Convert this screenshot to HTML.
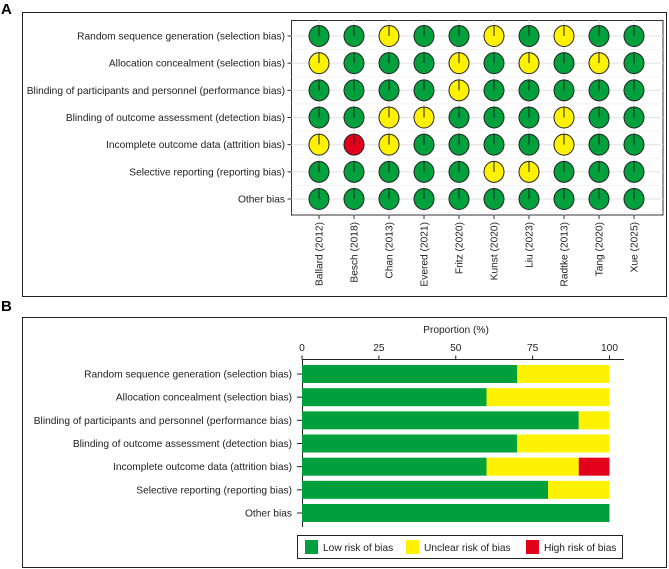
<!DOCTYPE html>
<html><head><meta charset="utf-8"><style>
body{margin:0;background:#fff;}
svg{display:block;font-family:"Liberation Sans",Arial,sans-serif;}
</style></head><body>
<svg id="chart" width="669" height="569" viewBox="0 0 669 569">
<text x="1" y="14" font-size="15" font-weight="bold">A</text>
<rect x="22.5" y="12.5" width="644" height="284" fill="none" stroke="#222" stroke-width="1"/>
<text x="1" y="311" font-size="15" font-weight="bold">B</text>
<rect x="22.5" y="317.5" width="644" height="250" fill="none" stroke="#222" stroke-width="1"/>
<g id="gA"></g>
<g id="gB"></g>
</svg>
<script>
const domains = ["Random sequence generation (selection bias)","Allocation concealment (selection bias)","Blinding of participants and personnel (performance bias)","Blinding of outcome assessment (detection bias)","Incomplete outcome data (attrition bias)","Selective reporting (reporting bias)","Other bias"];
const studies = ["Ballard (2012)","Besch (2018)","Chan (2013)","Evered (2021)","Fritz (2020)","Kunst (2020)","Liu (2023)","Radtke (2013)","Tang (2020)","Xue (2025)"];
// L = low, U = unclear, H = high
const judgments = [
 ["L","L","U","L","L","U","L","U","L","L"],
 ["U","L","L","L","U","L","U","L","U","L"],
 ["L","L","L","L","U","L","L","L","L","L"],
 ["L","L","U","U","L","L","L","U","L","L"],
 ["U","H","U","L","L","L","L","U","L","L"],
 ["L","L","L","L","L","U","U","L","L","L"],
 ["L","L","L","L","L","L","L","L","L","L"]
];
const lowPct = [70,60,90,70,60,80,100];
const unclearPct = [30,40,10,30,30,20,0];
const highPct = [0,0,0,0,10,0,0];
const xTicks = [0,25,50,75,100];
const legendLabels = ["Low risk of bias","Unclear risk of bias","High risk of bias"];

const C = {L:"#00A03C",U:"#FFF200",H:"#E2001A"};
const NS="http://www.w3.org/2000/svg";
function mk(p,t,a){const e=document.createElementNS(NS,t);for(const k in a)e.setAttribute(k,a[k]);p.appendChild(e);return e;}

// Panel A
const gA=document.getElementById('gA');
const pL=291.5,pT=20.5,pR=663,pB=215;
const colX=i=>319+i*(634-319)/(studies.length-1);
const rowY=j=>36+j*(199-36)/(domains.length-1);
let bg=mk(gA,'rect',{x:pL,y:pT,width:pR-pL,height:pB-pT,fill:"#fff",stroke:"#333","stroke-width":1});


for(let j=0;j<domains.length;j++){
 const y=rowY(j);
 let g=mk(gA,'line',{x1:pL,x2:pR,y1:y,y2:y,stroke:"#e6e6e6","stroke-width":1.2});
 
 
 let h=mk(gA,'line',{x1:pL,x2:pR,y1:y+13.6,y2:y+13.6,stroke:"#f2f2f2","stroke-width":0.8});
 
 
 let tk=mk(gA,'line',{x1:pL-4,x2:pL,y1:y,y2:y,stroke:"#333"});
 
 
 let t=mk(gA,'text',{x:285,y:y+3.5,"font-size":10.2,"text-anchor":"end",fill:"#222"});
 t.textContent=domains[j];
 
 
}
for(let i=0;i<studies.length;i++){
 const x=colX(i);
 let g=mk(gA,'line',{x1:x,x2:x,y1:pT,y2:pB,stroke:"#e6e6e6","stroke-width":1.2});
 
 
 let tk=mk(gA,'line',{x1:x,x2:x,y1:pB,y2:pB+4,stroke:"#333"});
 
 
 let t=mk(gA,'text',{x:0,y:0,"font-size":10.2,"text-anchor":"end",fill:"#222",transform:`translate(${x+3.5},${pB+7}) rotate(-90)`});
 t.textContent=studies[i];
 
 
}
for(let j=0;j<domains.length;j++)for(let i=0;i<studies.length;i++){
 const x=colX(i),y=rowY(j),v=judgments[j][i];
 let c=mk(gA,'ellipse',{cx:x,cy:y,rx:10,ry:10.5,fill:C[v],stroke:"#222","stroke-width":1});
 
 
 let l=mk(gA,'line',{x1:x,x2:x,y1:y-10.5,y2:y,stroke:"#222","stroke-width":1});
 
 
}

// Panel B
const gB=document.getElementById('gB');
const x0=302,x1=609.5,axY=359.5;
const xs=v=>x0+(x1-x0)*v/100;
const rY=j=>374+j*(513-374)/(domains.length-1);
let tt=mk(gB,'text',{x:456,y:333,"font-size":10.2,"text-anchor":"middle",fill:"#222"});
tt.textContent="Proportion (%)";


let ax=mk(gB,'line',{x1:x0,x2:624,y1:axY,y2:axY,stroke:"#222"});


let ay=mk(gB,'line',{x1:x0+0.5,x2:x0+0.5,y1:axY,y2:527,stroke:"#222"});


xTicks.forEach(v=>{
 let tk=mk(gB,'line',{x1:xs(v),x2:xs(v),y1:axY-4,y2:axY,stroke:"#222"});
 
 
 let t=mk(gB,'text',{x:xs(v),y:351,"font-size":10.2,"text-anchor":"middle",fill:"#222"});
 t.textContent=v;
 
 
});
for(let j=0;j<domains.length;j++){
 const y=rY(j);
 let tk=mk(gB,'line',{x1:x0-5,x2:x0,y1:y,y2:y,stroke:"#222"});
 
 
 let t=mk(gB,'text',{x:292,y:y+3.5,"font-size":10.2,"text-anchor":"end",fill:"#222"});
 t.textContent=domains[j];
 
 
 let acc=0;
 [[lowPct[j],'L'],[unclearPct[j],'U'],[highPct[j],'H']].forEach(([v,k])=>{
  if(v>0){
   let r=mk(gB,'rect',{x:xs(acc),y:y-9,width:xs(acc+v)-xs(acc),height:18,fill:C[k]});
   
   
  }
  acc+=v;
 });
}
let lg=mk(gB,'rect',{x:297.5,y:535.5,width:325,height:23,fill:"#fff",stroke:"#222"});


const lgX=[305,406,526];
['L','U','H'].forEach((k,i)=>{
 let s=mk(gB,'rect',{x:lgX[i],y:540,width:13,height:14,fill:C[k]});
 
 
 let t=mk(gB,'text',{x:lgX[i]+18,y:551,"font-size":10.2,fill:"#222"});
 t.textContent=legendLabels[i];
 
 
});
</script>
</body></html>
